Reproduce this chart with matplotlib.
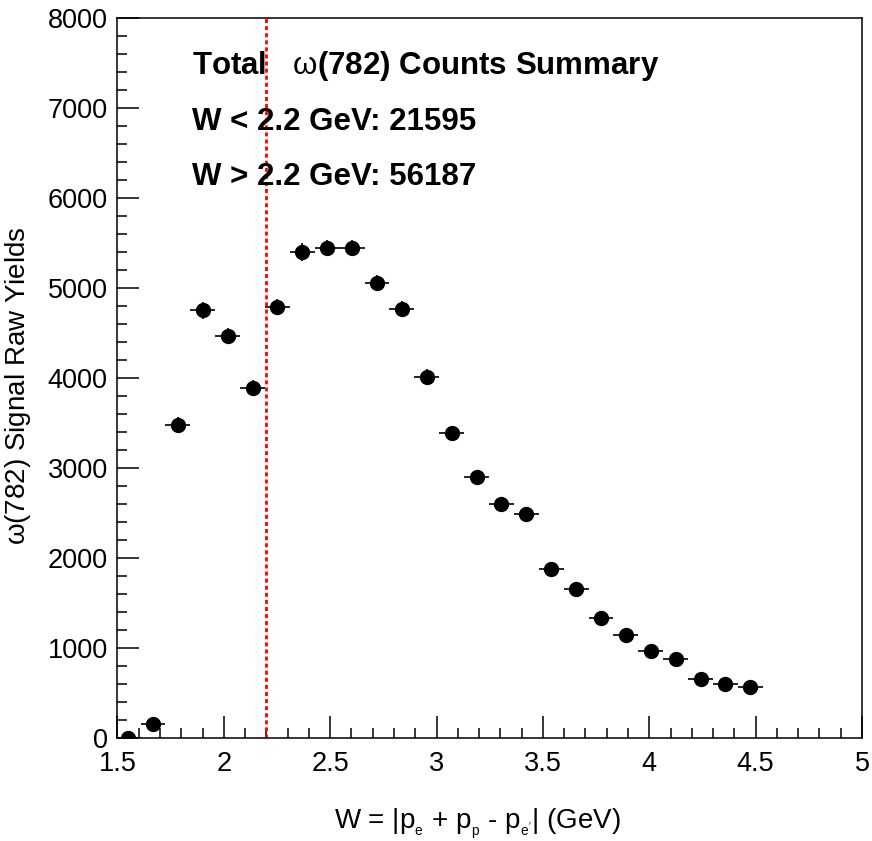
import matplotlib
matplotlib.use("Agg")
import matplotlib.pyplot as plt
from matplotlib.ticker import MultipleLocator, FormatStrFormatter

plt.rcParams['font.family'] = ['Liberation Sans', 'DejaVu Sans']
plt.rcParams['mathtext.fontset'] = 'custom'
plt.rcParams['mathtext.rm'] = 'Liberation Sans'
plt.rcParams['mathtext.it'] = 'Liberation Sans'

# omega(782) raw yields per W bin
w_centers = [1.550, 1.667, 1.784, 1.901, 2.018, 2.135, 2.252, 2.369, 2.486,
             2.603, 2.720, 2.837, 2.954, 3.071, 3.188, 3.305, 3.422, 3.539,
             3.656, 3.773, 3.890, 4.007, 4.124, 4.241, 4.358, 4.475]
w_halfwidth = [0.0585] * 26
yields = [0, 156, 3478, 4756, 4467, 3892, 4793, 5397, 5448, 5448, 5059, 4770,
          4018, 3392, 2904, 2600, 2489, 1881, 1663, 1335, 1144, 970, 878,
          663, 607, 570]
yield_err = [15, 40, 90, 95, 90, 85, 90, 100, 90, 90, 85, 85, 80,
             70, 65, 60, 60, 55, 50, 50, 45, 45, 40, 35, 35, 35]

w_cut = 2.2
summary_lines = [r"Total   $\mathrm{\omega}$(782) Counts Summary",
                 "W < 2.2 GeV: 21595",
                 "W > 2.2 GeV: 56187"]
summary_y = [7381, 6760, 6150]

fig = plt.figure(figsize=(8.72, 8.41), dpi=100)
ax = fig.add_axes([0.1347, 0.1221, 0.9885 - 0.1347, 0.9786 - 0.1221])

ax.errorbar(w_centers, yields, xerr=w_halfwidth, yerr=yield_err, fmt='o',
            color='black', markersize=10, elinewidth=1.2, capsize=0)
ax.axvline(w_cut, color='red', lw=2.0, ls=(0, (1.45, 1.1)))

for txt, yy in zip(summary_lines, summary_y):
    ax.text(1.852, yy, txt, fontsize=22.5, fontweight='bold', va='baseline', ha='left')

ax.set_xlim(1.5, 5)
ax.set_ylim(0, 8000)
ax.xaxis.set_major_locator(MultipleLocator(0.5))
ax.xaxis.set_minor_locator(MultipleLocator(0.1))
ax.xaxis.set_major_formatter(FormatStrFormatter('%g'))
ax.yaxis.set_major_locator(MultipleLocator(1000))
ax.yaxis.set_minor_locator(MultipleLocator(200))
ax.tick_params(which='both', direction='in', top=False, right=False, width=1.1, labelsize=19.5)
ax.tick_params(axis='x', which='major', length=15.8, pad=9)
ax.tick_params(axis='y', which='major', length=15.8, pad=7)
ax.tick_params(which='minor', length=7.2)
for s in ax.spines.values():
    s.set_linewidth(1.1)

fig.text(0.548, (841 - 828) / 841,
         r"W = |p$_{_{\rm e}}$ + p$_{_{\rm p}}$ - p$_{_{\rm e'}}$| (GeV)",
         fontsize=20, ha='center', va='baseline')
ax.set_ylabel(r"$\mathrm{\omega}$(782) Signal Raw Yields", fontsize=20)
ax.yaxis.set_label_coords(-0.113, 0.489)

fig.savefig("out.png", dpi=100)
